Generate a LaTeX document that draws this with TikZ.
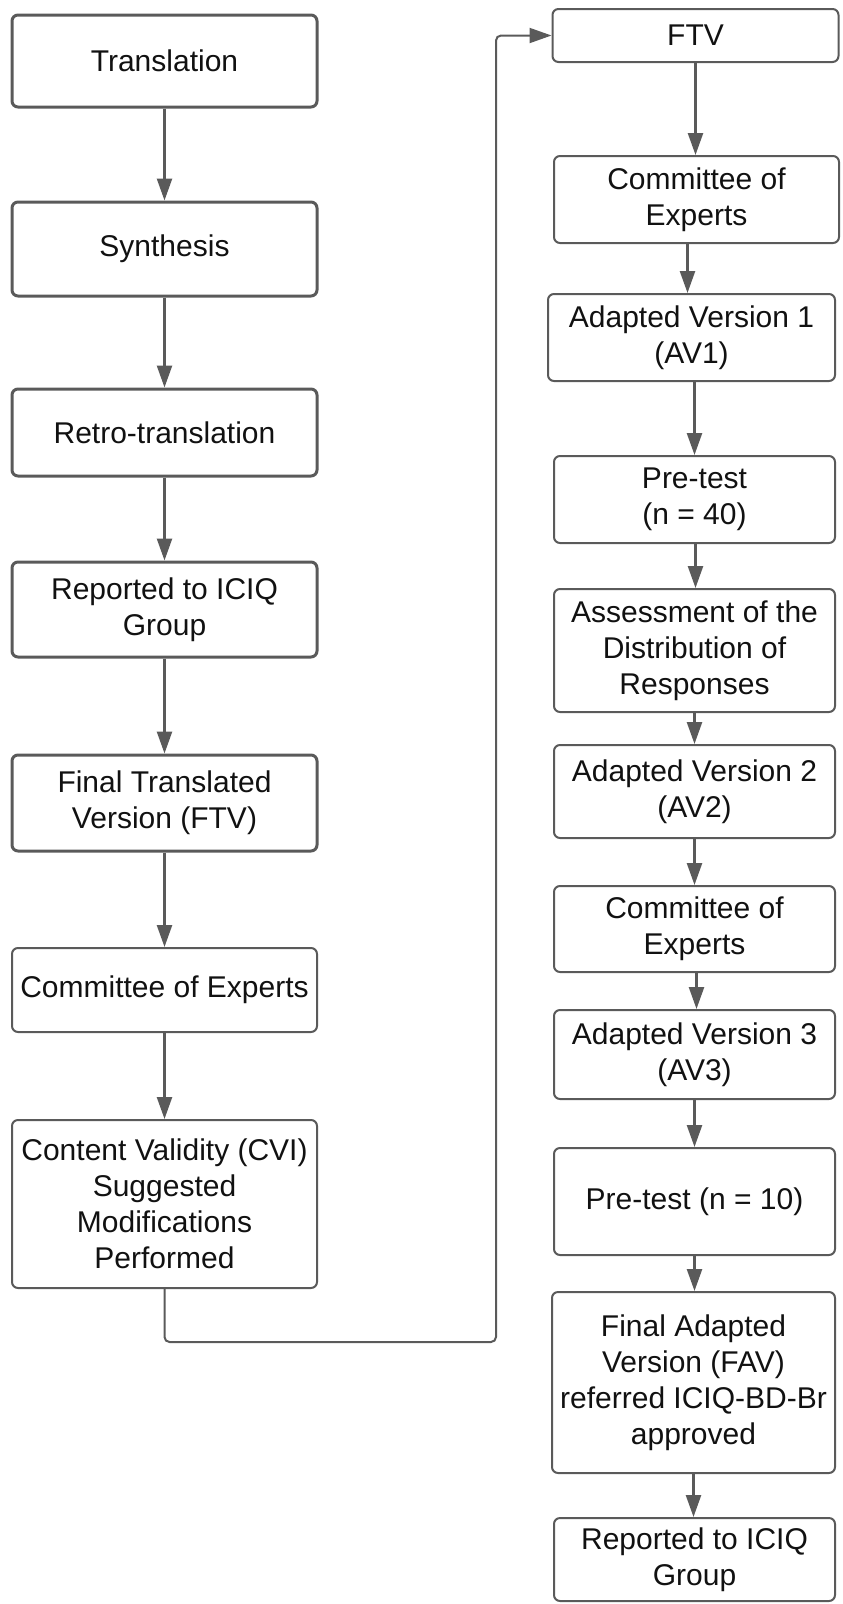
\documentclass[tikz,border=0pt]{standalone}
\usepackage{fontspec}
\setmainfont{Liberation Sans}
\usetikzlibrary{arrows.meta}
\definecolor{edge}{HTML}{5A5A5A}
\definecolor{txt}{HTML}{111111}
\begin{document}
\begin{tikzpicture}[x=1pt,y=-1pt,
  box/.style={draw=edge,rounded corners=6pt,line width=2pt,align=center,
    text=txt,font=\fontsize{30}{36}\selectfont,inner sep=0pt},
  thickbox/.style={box,line width=3pt},
  arr/.style={draw=edge,line width=2.5pt,-{Triangle[length=22pt,width=15pt]}},
  loopline/.style={draw=edge,line width=2pt,rounded corners=5pt,-{Triangle[length=22pt,width=15pt]}}]
\useasboundingbox (0,0) rectangle (843,1604);
% left column
\node[thickbox,minimum width=305pt,minimum height=92pt] (l1) at (164.5,61) {Translation};
\node[thickbox,minimum width=305pt,minimum height=94pt] (l2) at (164.5,249) {Synthesis};
\node[thickbox,minimum width=305pt,minimum height=87pt] (l3) at (164.5,432.5) {Retro-translation};
\node[thickbox,minimum width=305pt,minimum height=95pt] (l4) at (164.5,609.5) {Reported to ICIQ\\Group};
\node[thickbox,minimum width=305pt,minimum height=96pt] (l5) at (164.5,803) {Final Translated\\Version (FTV)};
\node[box,minimum width=305pt,minimum height=84pt] (l6) at (164.5,990) {Committee of Experts};
\node[box,minimum width=305pt,minimum height=168pt] (l7) at (164.5,1204) {Content Validity (CVI)\\Suggested\\Modifications\\Performed};
% right column
\node[box,minimum width=286pt,minimum height=53pt] (r1) at (695.5,35.5) {FTV};
\node[box,minimum width=285pt,minimum height=87pt] (r2) at (696.5,199.5) {Committee of\\Experts};
\node[box,minimum width=287pt,minimum height=87pt] (r3) at (691.5,337.5) {Adapted Version 1\\(AV1)};
\node[box,minimum width=281pt,minimum height=87pt] (r4) at (694.5,499.5) {Pre-test\\(n = 40)};
\node[box,minimum width=281pt,minimum height=123pt] (r5) at (694.5,650.5) {Assessment of the\\Distribution of\\Responses};
\node[box,minimum width=281pt,minimum height=93pt] (r6) at (694.5,791.5) {Adapted Version 2\\(AV2)};
\node[box,minimum width=281pt,minimum height=86pt] (r7) at (694.5,929) {Committee of\\Experts};
\node[box,minimum width=281pt,minimum height=89pt] (r8) at (694.5,1054.5) {Adapted Version 3\\(AV3)};
\node[box,minimum width=281pt,minimum height=107pt] (r9) at (694.5,1201.5) {Pre-test (n = 10)};
\node[box,minimum width=283pt,minimum height=181pt] (r10) at (693.5,1382.5) {Final Adapted\\Version (FAV)\\referred ICIQ-BD-Br\\approved};
\node[box,minimum width=281pt,minimum height=83pt] (r11) at (694.5,1559.5) {Reported to ICIQ\\Group};
% left arrows
\foreach \a/\b in {l1/l2,l2/l3,l3/l4,l4/l5,l5/l6,l6/l7}
  \draw[arr] (\a.south) -- (\a.south |- \b.north);
% right arrows
\draw[arr] (r1.south) -- (r1.south |- r2.north);
\draw[arr] ([xshift=-9pt]r2.south) -- ([xshift=-9pt]r2.south |- r3.north);
\draw[arr] ([xshift=3pt]r3.south) -- ([xshift=3pt]r3.south |- r4.north);
\draw[arr] ([xshift=1pt]r4.south) -- ([xshift=1pt]r4.south |- r5.north);
\foreach \a/\b in {r5/r6,r6/r7,r8/r9,r9/r10}
  \draw[arr] (\a.south) -- (\a.south |- \b.north);
\draw[arr] ([xshift=2pt]r7.south) -- ([xshift=2pt]r7.south |- r8.north);
\draw[arr] (r10.south) -- (r10.south |- r11.north);
% loop connector
\coordinate (loopx) at (496,1342);
\draw[loopline] (l7.south) |- (loopx) |- (r1.west);
\end{tikzpicture}
\end{document}
